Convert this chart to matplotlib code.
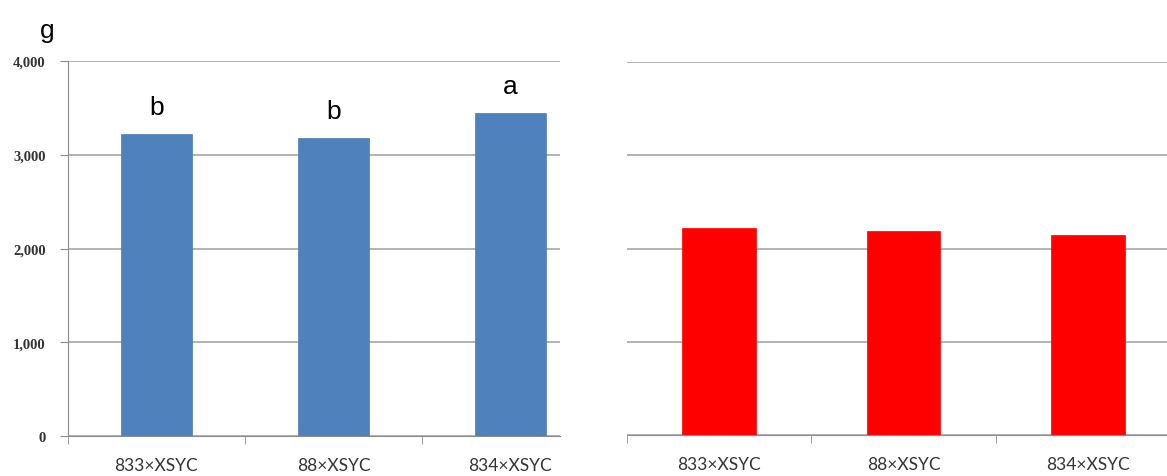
import matplotlib
matplotlib.use("Agg")
import matplotlib.pyplot as plt
from matplotlib.ticker import FuncFormatter, FixedLocator
import numpy as np

# data
crosses = ["833×XSYC", "88×XSYC", "834×XSYC"]
left_vals = [3220, 3180, 3445]
left_letters = ["b", "b", "a"]
right_vals = [2215, 2190, 2145]
yticks = [0, 1000, 2000, 3000, 4000]

blue = "#4F81BD"
red = "#FF0000"
grid_col = "#A6A6A6"
axis_col = "#8C8C8C"

W, H = 1167, 477
fig = plt.figure(figsize=(W / 100, H / 100), dpi=100)

ax1 = fig.add_axes([68 / W, 40 / H, (560 - 68) / W, (437 - 62) / H])
ax2 = fig.add_axes([627 / W, 41 / H, (W - 627) / W, (436 - 63) / H])

x = np.arange(len(crosses))


def style(ax, xmax):
    ax.set_ylim(0, 4000)
    ax.set_xlim(-0.5, xmax)
    ax.set_yticks(yticks)
    ax.yaxis.grid(True, color=grid_col, linewidth=1.2)
    ax.set_axisbelow(True)
    for s in ["top", "right"]:
        ax.spines[s].set_visible(False)
    ax.spines["bottom"].set_color(axis_col)
    ax.spines["left"].set_color(axis_col)
    # category ticks between bars, labels at bar centres
    ax.set_xticks(x)
    ax.set_xticklabels(crosses, fontsize=12.5, color="#333333",
                       family=["Lato", "DejaVu Sans"])
    ax.tick_params(axis="x", which="major", length=0, pad=15)
    ax.xaxis.set_minor_locator(FixedLocator(np.arange(-0.5, xmax, 1.0)))
    ax.tick_params(axis="x", which="minor", length=6, color=axis_col, direction="out")


ax1.bar(x, left_vals, width=0.4, color=blue, edgecolor="#4A7AB5", linewidth=0.5)
style(ax1, 2.28)
ax1.yaxis.set_major_formatter(FuncFormatter(lambda v, p: f"{int(v):,}"))
ax1.tick_params(axis="y", length=6, color=axis_col, pad=10, labelsize=10.5,
                labelcolor="#333333")
for lab in ax1.get_yticklabels():
    lab.set_family("Liberation Serif")
    lab.set_fontweight("bold")

for xi, v, t in zip(x, left_vals, left_letters):
    ax1.text(xi, v + 210, t, ha="center", va="baseline", fontsize=19,
             family="Liberation Sans", color="black")

ax2.bar(x, right_vals, width=0.4, color=red, edgecolor=red, linewidth=0.5)
style(ax2, 2.43)
ax2.spines["left"].set_visible(False)
ax2.tick_params(axis="y", length=0, labelleft=False)

fig.text(40 / W, 1 - 31 / H, "g", fontsize=19, family="Liberation Sans",
         ha="left", va="center")

fig.savefig("out.png", dpi=100)
